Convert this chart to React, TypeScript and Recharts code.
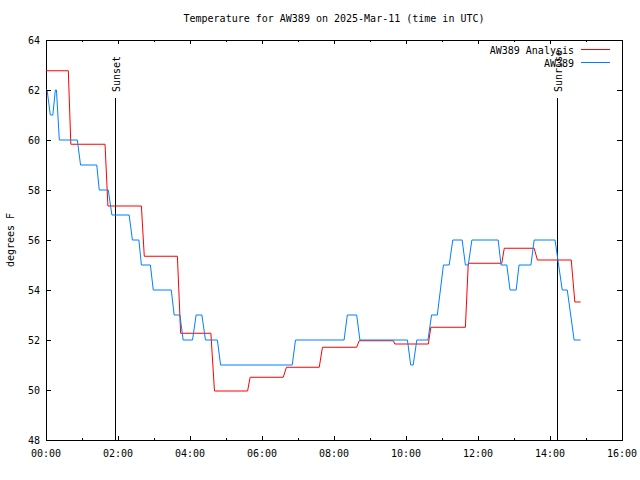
import { LineChart, Line, XAxis, YAxis, ReferenceLine, ReferenceArea, Legend } from "recharts";

// times are decimal hours UTC
const analysisTimes = [
  0, 0.62, 0.69, 1.64, 1.72, 2.65, 2.73, 3.65, 3.74, 4.58, 4.68, 5.6, 5.67, 6.59, 6.68, 7.59,
  7.68, 8.63, 8.7, 9.65, 9.69, 10.62, 10.69, 11.65, 11.73, 12.66, 12.73, 13.56, 13.65, 14.59,
  14.69, 14.85,
];
const analysisTemps = [
  62.77, 62.77, 59.83, 59.83, 57.36, 57.36, 55.35, 55.35, 52.27, 52.27, 49.96, 49.96, 50.51,
  50.51, 50.91, 50.91, 51.71, 51.71, 51.97, 51.97, 51.84, 51.84, 52.51, 52.51, 55.07, 55.07,
  55.67, 55.67, 55.2, 55.2, 53.52, 53.52,
];

const obsTimes = [
  0, 0.03, 0.12, 0.19, 0.26, 0.29, 0.37, 0.87, 0.96, 1.41, 1.48, 1.73, 1.83, 2.31, 2.4, 2.58,
  2.65, 2.9, 2.98, 3.48, 3.56, 3.72, 3.81, 4.07, 4.17, 4.33, 4.43, 4.76, 4.85, 6.84, 6.93, 8.28,
  8.37, 8.63, 8.72, 10.04, 10.13, 10.2, 10.3, 10.61, 10.71, 10.87, 11.04, 11.2, 11.3, 11.56,
  11.65, 11.73, 11.83, 12.56, 12.64, 12.8, 12.89, 13.06, 13.14, 13.47, 13.56, 14.14, 14.34,
  14.48, 14.67, 14.85,
];
const obsTemps = [
  62, 62, 61, 61, 62, 62, 60, 60, 59, 59, 58, 58, 57, 57, 56, 56, 55, 55, 54, 54, 53, 53, 52, 52,
  53, 53, 52, 52, 51, 51, 52, 52, 53, 53, 52, 52, 51, 51, 52, 52, 53, 53, 55, 55, 56, 56, 55, 55,
  56, 56, 55, 55, 54, 54, 55, 55, 56, 56, 54, 54, 52, 52,
];

const hourTicks = [0, 1, 2, 3, 4, 5, 6, 7, 8, 9, 10, 11, 12, 13, 14, 15, 16];
const tempTicks = [48, 50, 52, 54, 56, 58, 60, 62, 64];
const legendOrder = ["AW389 Analysis", "AW389"];

const sunset = 1.94;
const sunrise = 14.22;

const analysisData = analysisTimes.map((t, i) => ({ time: t, temp: analysisTemps[i] }));
const obsData = obsTimes.map((t, i) => ({ time: t, temp: obsTemps[i] }));

const FONT = "'DejaVu Sans Mono', monospace";
const PLOT_TOP = 40;
const PLOT_RIGHT = 622;

const fmtHour = (h: number) => `${String(h).padStart(2, "0")}:00`;

const BottomTick = (props: any) => {
  const { x, y, payload } = props;
  const major = payload.value % 2 === 0;
  const len = major ? 4 : 2;
  return (
    <g>
      <line x1={x} x2={x} y1={y} y2={y - len} stroke="#000" shapeRendering="crispEdges" />
      <line x1={x} x2={x} y1={PLOT_TOP} y2={PLOT_TOP + len} stroke="#000" shapeRendering="crispEdges" />
      {major && (
        <text x={x} y={y + 17} textAnchor="middle" fontFamily={FONT} fontSize={10} fill="#000">
          {fmtHour(payload.value)}
        </text>
      )}
    </g>
  );
};

const LeftTick = (props: any) => {
  const { x, y, payload } = props;
  return (
    <g>
      <line x1={x} x2={x + 5} y1={y} y2={y} stroke="#000" shapeRendering="crispEdges" />
      <line x1={PLOT_RIGHT} x2={PLOT_RIGHT - 5} y1={y} y2={y} stroke="#000" shapeRendering="crispEdges" />
      <text x={x - 6} y={y + 3.5} textAnchor="end" fontFamily={FONT} fontSize={10} fill="#000">
        {payload.value}
      </text>
    </g>
  );
};

const vertLabel = (text: string) => (props: any) => {
  const vb = props.viewBox;
  const x = vb.x + 4;
  const y = vb.y - 6;
  return (
    <text x={x} y={y} transform={`rotate(-90 ${x} ${y})`} textAnchor="start" fontFamily={FONT} fontSize={10} fill="#000">
      {text}
    </text>
  );
};

const renderLegend = (props: any) => {
  const items = [...(props.payload || [])].sort(
    (a: any, b: any) => legendOrder.indexOf(a.value) - legendOrder.indexOf(b.value)
  );
  return (
    <svg width={640} height={80} style={{ display: "block" }}>
      {items.map((it: any, i: number) => (
        <g key={i}>
          <text x={574} y={54 + i * 13} textAnchor="end" fontFamily={FONT} fontSize={10} fill="#000">
            {it.value}
          </text>
          <line x1={581} x2={610} y1={49.5 + i * 13} y2={49.5 + i * 13} stroke={it.color} />
        </g>
      ))}
    </svg>
  );
};

export default function App() {
  return (
    <div style={{ position: "absolute", left: 0, top: 0, width: 640, height: 480, background: "#fff" }}>
      <div
        style={{
          position: "absolute",
          top: 13,
          left: 46,
          width: 576,
          textAlign: "center",
          fontFamily: FONT,
          fontSize: 10,
          lineHeight: "12px",
        }}
      >
        Temperature for AW389 on 2025-Mar-11 (time in UTC)
      </div>
      <LineChart width={640} height={480} margin={{ top: 40, right: 18, bottom: 0, left: 0 }}>
        <XAxis
          dataKey="time"
          type="number"
          domain={[0, 16]}
          ticks={hourTicks}
          interval={0}
          height={40}
          axisLine={false}
          tickLine={false}
          tickSize={0}
          tickMargin={0}
          tick={BottomTick}
        />
        <YAxis
          type="number"
          domain={[48, 64]}
          ticks={tempTicks}
          interval={0}
          width={46}
          axisLine={false}
          tickLine={false}
          tickSize={0}
          tickMargin={0}
          tick={LeftTick}
          label={{
            content: (p: any) => {
              const vb = p.viewBox;
              const x = vb.x + 14;
              const y = vb.y + vb.height / 2;
              return (
                <text x={x} y={y} transform={`rotate(-90 ${x} ${y})`} textAnchor="middle" fontFamily={FONT} fontSize={10} fill="#000">
                  degrees F
                </text>
              );
            },
          }}
        />
        <ReferenceArea x1={0} x2={16} y1={48} y2={64} fill="none" stroke="#000" shapeRendering="crispEdges" />
        <ReferenceLine
          segment={[{ x: sunset, y: 48 }, { x: sunset, y: 61.68 }]}
          stroke="#000"
          shapeRendering="crispEdges"
          label={{ content: vertLabel("Sunset") }}
        />
        <ReferenceLine
          segment={[{ x: sunrise, y: 48 }, { x: sunrise, y: 61.68 }]}
          stroke="#000"
          shapeRendering="crispEdges"
          label={{ content: vertLabel("Sunrise") }}
        />
        <Legend
          layout="horizontal"
          verticalAlign="middle"
          align="center"
          wrapperStyle={{ top: 0, left: 0, width: 640 }}
          content={renderLegend}
        />
        <Line
          data={analysisData}
          dataKey="temp"
          name="AW389 Analysis"
          stroke="#ff0000"
          strokeWidth={1}
          dot={false}
          type="linear"
          isAnimationActive={false}
        />
        <Line
          data={obsData}
          dataKey="temp"
          name="AW389"
          stroke="#0080ff"
          strokeWidth={1}
          dot={false}
          type="linear"
          isAnimationActive={false}
        />
      </LineChart>
    </div>
  );
}
